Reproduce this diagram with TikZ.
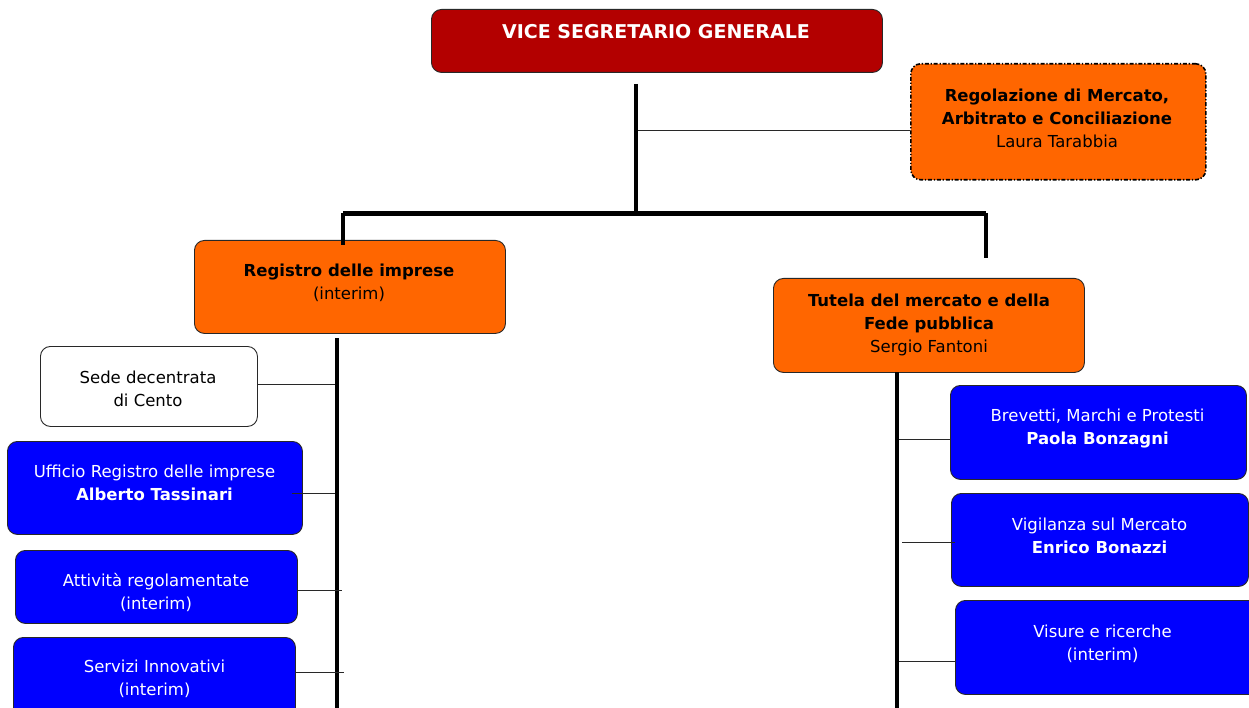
\documentclass[tikz,border=0pt]{standalone}
\usepackage{fontspec}
\setmainfont{DejaVu Sans}
\definecolor{vsgred}{RGB}{179,0,0}
\definecolor{unitorange}{RGB}{255,102,0}
\definecolor{officeblue}{RGB}{0,0,255}
\definecolor{edgegray}{RGB}{40,40,40}
\begin{document}
\begin{tikzpicture}[x=1pt,y=-1pt,
  box/.style={draw=edgegray, line width=0.9pt, rounded corners=10pt, anchor=north west, inner sep=0pt},
  redbox/.style={box, fill=vsgred},
  orangebox/.style={box, fill=unitorange},
  bluebox/.style={box, fill=officeblue},
  whitebox/.style={box, fill=white},
  dashbox/.style={box, fill=unitorange, draw=black, line width=1.6pt, dash pattern=on 4pt off 1.8pt on 1.3pt off 1.8pt},
  txt/.style={align=center, inner sep=0pt, font=\fontsize{16.5}{23}\selectfont},
  wtxt/.style={txt, text=white},
  bar/.style={draw=black, line width=4.5pt},
  thinline/.style={draw=edgegray, line width=1pt}]
\clip (0,0) rectangle (1249,708);
\fill[white] (0,0) rectangle (1249,708);
% boxes
\node[redbox, minimum width=451, minimum height=63] (vsg) at (431,9) {};
\node[dashbox, minimum width=295, minimum height=116] (regol) at (910,63) {};
\node[orangebox, minimum width=311, minimum height=93] (reg) at (194,240) {};
\node[orangebox, minimum width=311, minimum height=94] (tut) at (773,278) {};
\node[whitebox, minimum width=217, minimum height=80] (sede) at (40,346) {};
\node[bluebox, minimum width=295, minimum height=93] (uff) at (7,441) {};
\node[bluebox, minimum width=282, minimum height=73] (att) at (15,550) {};
\node[bluebox, minimum width=282, minimum height=90] (serv) at (13,637) {};
\node[bluebox, minimum width=296, minimum height=94] (brev) at (950,385) {};
\node[bluebox, minimum width=297, minimum height=93] (vig) at (951,493) {};
\node[bluebox, minimum width=310, minimum height=94] (vis) at (955,600) {};
% texts
\node[wtxt, font=\fontsize{19}{23}\selectfont] (vsgT) at (656,32) {\textbf{VICE SEGRETARIO GENERALE}};
\node[txt] (regolT) at (1057,118.5) {\textbf{Regolazione di Mercato,}\\\textbf{Arbitrato e Conciliazione}\\Laura Tarabbia};
\node[txt] (regT) at (349,283) {\textbf{Registro delle imprese}\\(interim)};
\node[txt] (tutT) at (929,324.5) {\textbf{Tutela del mercato e della}\\\textbf{Fede pubblica}\\Sergio Fantoni};
\node[txt] (sedeT) at (148,388.5) {Sede decentrata\\di Cento};
\node[wtxt] (uffT) at (154.5,483) {Ufficio Registro delle imprese\\\textbf{Alberto Tassinari}};
\node[wtxt] (attT) at (156,592) {Attività regolamentate\\(interim)};
\node[wtxt] (servT) at (154.5,678.5) {Servizi Innovativi\\(interim)};
\node[wtxt] (brevT) at (1097.5,428.5) {Brevetti, Marchi e Protesti\\\textbf{Paola Bonzagni}};
\node[wtxt] (vigT) at (1099.5,535.5) {Vigilanza sul Mercato\\\textbf{Enrico Bonazzi}};
\node[wtxt] (visT) at (1102.5,644) {Visure e ricerche\\(interim)};
% junction coordinates
\coordinate (vtop) at (636,84);
\coordinate (vbot) at (636,211);
\coordinate (jreg) at (638,131);
\coordinate (bl) at (343,213.5);
\coordinate (br) at (986,213.5);
\coordinate (bldrop) at (343,245);
\coordinate (brdrop) at (986,258);
\coordinate (lvtop) at (337,338);
\coordinate (lvbot) at (337,708);
\coordinate (rvtop) at (897,372);
\coordinate (rvbot) at (897,708);
\coordinate (jsede) at (335,384);
\coordinate (juff) at (335,493);
\coordinate (juffs) at (292,493);
\coordinate (jatt) at (342,590);
\coordinate (jserv) at (344,672);
\coordinate (jbrev) at (899,439);
\coordinate (jvig) at (902,542);
\coordinate (jvige) at (955,542);
\coordinate (jvis) at (899,661);
\coordinate (jvise) at (956,661);
% connectors
\draw[bar] (vtop) -- (vbot);
\draw[thinline] (jreg) -- (jreg -| regol.west);
\draw[bar] (bl) -- (br);
\draw[bar] (bl) -- (bldrop);
\draw[bar] (br) -- (brdrop);
\draw[bar] (lvtop) -- (lvbot);
\draw[bar] (rvtop) -- (rvbot);
\draw[thinline] (jsede -| sede.east) -- (jsede);
\draw[thinline] (juffs) -- (juff);
\draw[thinline] (jatt -| att.east) -- (jatt);
\draw[thinline] (jserv -| serv.east) -- (jserv);
\draw[thinline] (jbrev) -- (jbrev -| brev.west);
\draw[thinline] (jvig) -- (jvige);
\draw[thinline] (jvis) -- (jvise);
\end{tikzpicture}
\end{document}
